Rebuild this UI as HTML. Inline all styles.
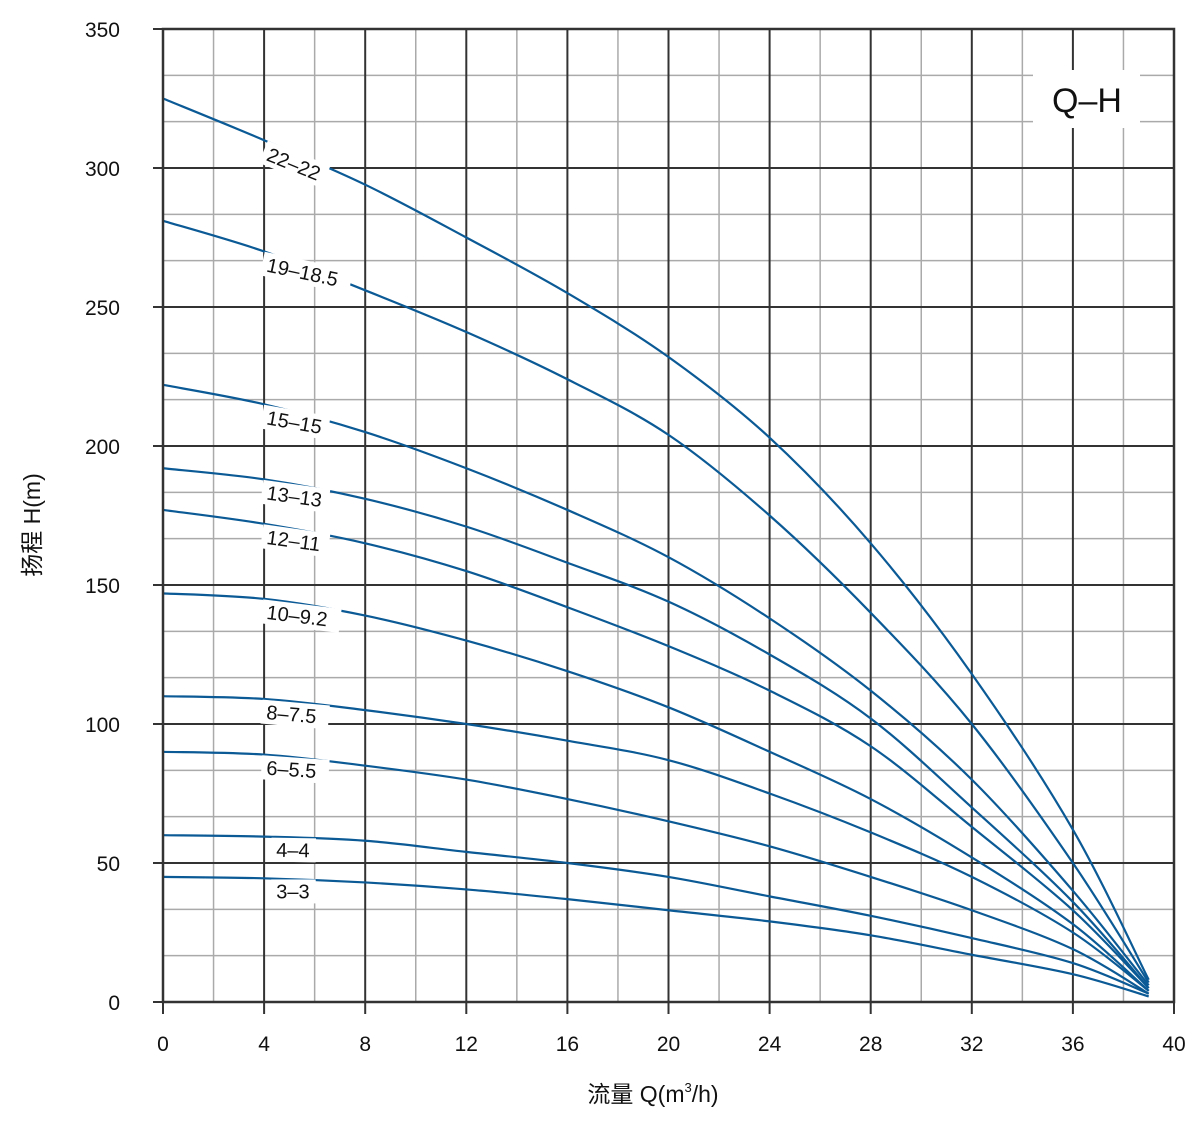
<!DOCTYPE html>
<html><head><meta charset="utf-8"><style>
body{margin:0;background:#fff;}
svg{display:block;font-family:"Liberation Sans","Noto Sans CJK SC",sans-serif;}
</style></head><body>
<svg id="chart" width="1200" height="1122" viewBox="0 0 1200 1122">
<g id="grid"></g><g id="curves"></g><g id="labels"></g><g id="axes"></g>
<rect x="1033" y="70" width="107" height="58" fill="#fff"/>
<text x="1087" y="112" font-size="34" text-anchor="middle" fill="#111">Q–H</text>
<text x="653" y="1102" font-size="23" text-anchor="middle" fill="#111">流量 Q(m<tspan font-size="13" dy="-10">3</tspan><tspan dy="10">/h)</tspan></text>
<text x="0" y="0" font-size="23" text-anchor="middle" fill="#111" transform="translate(40,525) rotate(-90)">扬程 H(m)</text>
</svg>
<script>
const xTicks=[0,4,8,12,16,20,24,28,32,36,40];
const yTicks=[0,50,100,150,200,250,300,350];
const flows=[0,4,8,12,16,20,24,28,32,36,39];
const models=["22-22","19-18.5","15-15","13-13","12-11","10-9.2","8-7.5","6-5.5","4-4","3-3"];
const h22=[325,310,294,275,255,232,203,165,118,62,8];
const h19=[281,270,256,241,224,204,175,140,100,50,7];
const h15=[222,215,205,192,177,160,138,112,80,40,6];
const h13=[192,188,181,171,158,144,125,102,70,36,5];
const h12=[177,172,165,155,142,128,112,92,63,33,5];
const h10=[147,145,139,130,119,106,90,73,52,28,4];
const h8=[110,109,105,100,94,87,75,61,45,25,4];
const h6=[90,89,85,80,73,65,56,45,33,19,3];
const h4=[60,59.5,58,54,50,45,38,31,23,14,3];
const h3=[45,44.5,43,40.5,37,33,29,24,17,10,2];
const series=[h22,h19,h15,h13,h12,h10,h8,h6,h4,h3];
const labelQ=[4,4,4,4,4,4,4,4,4.4,4.4];
const labelAng=[22,12,10,8,8,7,5,4,1,0];

const X0=163,X1=1174,Y0=1002,Y1=29;
const sx=v=>X0+(v/40)*(X1-X0);
const sy=v=>Y0-(v/350)*(Y0-Y1);
const NS="http://www.w3.org/2000/svg";
function mk(tag,parent,attrs){const e=document.createElementNS(NS,tag);for(const k in attrs)e.setAttribute(k,attrs[k]);parent.appendChild(e);return e;}
const grid=document.getElementById('grid'),axes=document.getElementById('axes'),curves=document.getElementById('curves'),labels=document.getElementById('labels');
for(let q=0;q<=40;q+=2){
  if(q%4===0) continue;
  const l=mk('line',grid,{x1:sx(q),x2:sx(q),y1:Y1,y2:Y0,stroke:'#aaa','stroke-width':1.5});
  
  
}
for(let h=0;h<350;h+=50/3){
  const l=mk('line',grid,{x1:X0,x2:X1,y1:sy(h),y2:sy(h),stroke:'#aaa','stroke-width':1.5});
  
  
}
xTicks.forEach(q=>{
  const l=mk('line',grid,{x1:sx(q),x2:sx(q),y1:Y1,y2:Y0+12,stroke:'#333','stroke-width':2});
  
  
  const t=mk('text',axes,{x:sx(q),y:1051,'font-size':21,'text-anchor':'middle',fill:'#111'});
  t.textContent=q;
  
  
});
yTicks.forEach(h=>{
  const l=mk('line',grid,{x1:X0-10,x2:X1,y1:sy(h),y2:sy(h),stroke:'#333','stroke-width':2});
  
  
  const t=mk('text',axes,{x:120,y:sy(h)+8,'font-size':21,'text-anchor':'end',fill:'#111'});
  t.textContent=h;
  
  
});
function path(arr){
  const p=arr.map((h,i)=>[sx(flows[i]),sy(h)]);
  let d='M'+p[0][0]+','+p[0][1];
  for(let i=0;i<p.length-1;i++){
    const p0=p[Math.max(i-1,0)],p1=p[i],p2=p[i+1],p3=p[Math.min(i+2,p.length-1)];
    const c1=[p1[0]+(p2[0]-p0[0])/6,p1[1]+(p2[1]-p0[1])/6];
    const c2=[p2[0]-(p3[0]-p1[0])/6,p2[1]-(p3[1]-p1[1])/6];
    d+=' C'+c1+' '+c2+' '+p2;
  }
  return d;
}
series.forEach((arr,i)=>{
  const c=mk('path',curves,{d:path(arr),fill:'none',stroke:'#0b5a96','stroke-width':2.2});
  
  
  const q=labelQ[i];
  const h=arr[0]+(arr[1]-arr[0])*q/4;
  const g=mk('g',labels,{transform:`translate(${sx(q)+2},${sy(h)+18}) rotate(${labelAng[i]})`});
  
  
  const w=models[i].length*11.5+10;
  mk('rect',g,{x:-5,y:-17,width:w,height:24,fill:'#fff'});
  const t=mk('text',g,{x:0,y:2,'font-size':20,fill:'#111'});
  t.textContent=models[i].replace('-','–');
});
const b=mk('rect',axes,{x:X0,y:Y1,width:X1-X0,height:Y0-Y1,fill:'none',stroke:'#333','stroke-width':2.5});


</script>
</body></html>
